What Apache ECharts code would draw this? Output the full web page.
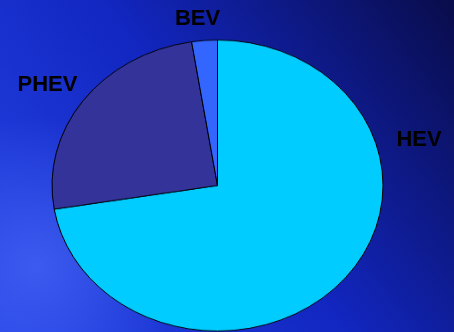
<!DOCTYPE html>
<html><head><meta charset="utf-8">
<script src="https://cdn.jsdelivr.net/npm/echarts@6/dist/echarts.min.js"></script>
<style>
html,body{margin:0;padding:0;overflow:hidden;width:454px;height:332px;background:#1226c0}
#bg{position:absolute;left:0;top:0;width:454px;height:332px}
#pie{position:absolute;left:0;top:0;width:454px;height:378px;transform:scaleY(0.8792);transform-origin:0 0}
</style></head><body>
<div id="bg"></div><div id="pie"></div>
<script>
const categories = ['HEV', 'PHEV', 'BEV'];
const values = [72.4, 25.1, 2.5];
const sliceColors = ['#00ccff', '#333399', '#3366ff'];
const labelPos = [[419, 140], [47.5, 85], [197.5, 18.5]];

const bg = echarts.init(document.getElementById('bg'), null, {renderer: 'canvas'});
const graphics = [
  {type: 'rect', shape: {x: 0, y: 0, width: 454, height: 332}, silent: true,
   style: {fill: new echarts.graphic.LinearGradient(1, 0, 0, 1, [
     {offset: 0, color: '#090c4a'},
     {offset: 0.5, color: '#1226c0'},
     {offset: 1, color: '#2444e6'}
   ])}},
  {type: 'rect', shape: {x: 0, y: 0, width: 454, height: 332}, silent: true,
   style: {fill: new echarts.graphic.RadialGradient(0.08, 0.8, 0.45, [
     {offset: 0, color: 'rgba(70,100,245,0.75)'},
     {offset: 1, color: 'rgba(70,100,245,0)'}
   ])}}
];
categories.forEach((c, i) => {
  graphics.push({type: 'text', x: labelPos[i][0], y: labelPos[i][1], silent: true,
    style: {text: c, fill: '#000', font: 'bold 22px "Liberation Sans", Arial, sans-serif',
      align: 'center', verticalAlign: 'middle'}});
});
bg.setOption({animation: false, graphic: graphics});

const pie = echarts.init(document.getElementById('pie'), null, {renderer: 'canvas'});
pie.setOption({
  animation: false,
  backgroundColor: 'transparent',
  series: [{
    type: 'pie',
    center: [217.5, 211],
    radius: [0, 165.5],
    startAngle: 90,
    clockwise: true,
    label: {show: false},
    labelLine: {show: false},
    silent: true,
    itemStyle: {borderColor: '#000', borderWidth: 1},
    data: categories.map((c, i) => ({name: c, value: values[i], itemStyle: {color: sliceColors[i]}}))
  }]
});
</script>
</body></html>
